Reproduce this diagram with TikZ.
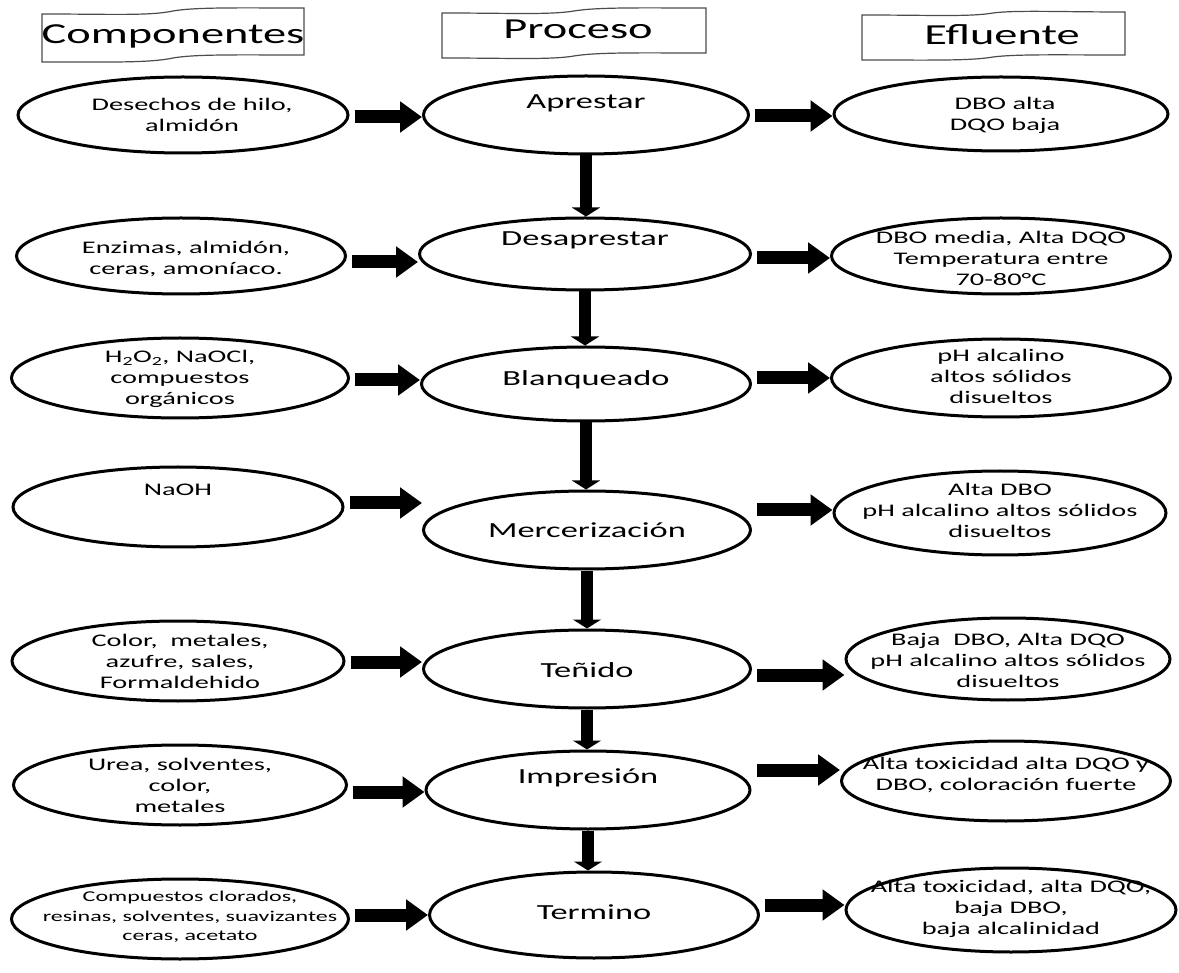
\documentclass[tikz,border=0pt]{standalone}
\usepackage{fontspec}
\setmainfont{Carlito}[FakeStretch=1.6]
\usetikzlibrary{shapes.geometric,arrows.meta}

\begin{document}
\begin{tikzpicture}[x=1pt,y=-1pt,
  elip/.style={draw,ellipse,line width=3pt,inner sep=0pt},
  txt/.style={align=center,inner sep=0pt,font=\fontsize{17.7}{21}\selectfont},
  ptxt/.style={inner sep=0pt,font=\fontsize{21.5}{26}\selectfont},
  htxt/.style={inner sep=0pt,font=\fontsize{29}{34}\selectfont},
  bnr/.style={draw=black!70,line width=1.2pt},
  harr/.style={line width=13pt,-{Triangle[length=22pt,width=30pt]},shorten <=5pt},
  varr/.style={line width=12pt,-{Triangle[length=9pt,width=28pt]}}]
\useasboundingbox (0,0) rectangle (1179,973);

% banners
\draw[bnr] (42,14) .. controls (110,14) and (150,16) .. (173,11) .. controls (196,7) and (240,8) .. (304,8)
  -- (304,55) .. controls (240,55) and (196,54) .. (173,58) .. controls (150,63) and (110,62) .. (42,62) -- cycle;
\draw[bnr] (442,13) .. controls (510,13) and (550,15) .. (574,11) .. controls (598,7) and (642,8) .. (706,8)
  -- (706,53) .. controls (642,53) and (598,52) .. (574,56) .. controls (550,60) and (510,58) .. (442,58) -- cycle;
\draw[bnr] (862,15) .. controls (930,15) and (970,17) .. (993,13) .. controls (1016,10) and (1060,12) .. (1125,12)
  -- (1125,55) .. controls (1060,55) and (1016,54) .. (993,57) .. controls (970,61) and (930,60) .. (862,60) -- cycle;
\node[htxt] (hC) at (173,36) {Componentes};
\node[htxt] (hP) at (578,29) {Proceso};
\node[htxt] (hE) at (1002,35) {Efluente};

\begin{scope}[every node/.style={elip}]
  \node[minimum width=330pt,minimum height=76pt] (l1) at (183,115) {};
  \node[minimum width=325pt,minimum height=78pt] (p1) at (586,115) {};
  \node[minimum width=334pt,minimum height=74pt] (r1) at (1001,114) {};
  \node[minimum width=329pt,minimum height=76pt] (l2) at (181,256) {};
  \node[minimum width=331pt,minimum height=72pt] (p2) at (585,254) {};
  \node[minimum width=339pt,minimum height=76pt] (r2) at (1001,256) {};
  \node[minimum width=337pt,minimum height=80pt] (l3) at (180,378) {};
  \node[minimum width=329pt,minimum height=74pt] (p3) at (586,384) {};
  \node[minimum width=339pt,minimum height=78pt] (r3) at (1001,378) {};
  \node[minimum width=330pt,minimum height=80pt] (l4) at (178,507) {};
  \node[minimum width=327pt,minimum height=78pt] (p4) at (587,530) {};
  \node[minimum width=332pt,minimum height=84pt] (r4) at (1000,513) {};
  \node[minimum width=332pt,minimum height=80pt] (l5) at (178,661) {};
  \node[minimum width=327pt,minimum height=78pt] (p5) at (587,669) {};
  \node[minimum width=324pt,minimum height=82pt] (r5) at (1008,659) {};
  \node[minimum width=333pt,minimum height=80pt] (l6) at (180,785) {};
  \node[minimum width=324pt,minimum height=78pt] (p6) at (588,790) {};
  \node[minimum width=329pt,minimum height=80pt] (r6) at (1006,781) {};
  \node[minimum width=337pt,minimum height=80pt] (l7) at (180,919) {};
  \node[minimum width=329pt,minimum height=86pt] (p7) at (594,915) {};
  \node[minimum width=330pt,minimum height=84pt] (r7) at (1011,910) {};
\end{scope}

% componentes
\node[txt] (tl1) at (192,115) {Desechos de hilo,\\almidón};
\node[txt] (tl2) at (186,259) {Enzimas, almidón,\\ceras, amoníaco.};
\node[txt] (tl3) at (180,379) {H\textsubscript{2}O\textsubscript{2}, NaOCl,\\compuestos\\orgánicos};
\node[txt] (tl4) at (178,490) {NaOH};
\node[txt] (tl5) at (180,661) {Color,\ \ metales,\\azufre, sales,\\Formaldehido};
\node[txt] (tl6) at (180,785) {Urea, solventes,\\color,\\metales};
\node[txt,font=\fontsize{15}{19.5}\selectfont] (tl7) at (190,917) {Compuestos clorados,\\resinas, solventes, suavizantes\\ceras, acetato};

% proceso
\node[ptxt] (tp1) at (586,103) {Aprestar};
\node[ptxt] (tp2) at (585,240) {Desaprestar};
\node[ptxt] (tp3) at (586,380) {Blanqueado};
\node[ptxt] (tp4) at (587,530) {Mercerización};
\node[ptxt] (tp5) at (587,670) {Teñido};
\node[ptxt] (tp6) at (588,778) {Impresión};
\node[ptxt] (tp7) at (594,912) {Termino};

% efluente
\node[txt] (tr1) at (1005,115) {DBO alta\\DQO baja};
\node[txt] (tr2) at (1001,258) {DBO media, Alta DQO\\Temperatura entre\\70-80°C};
\node[txt] (tr3) at (1001,376) {pH alcalino\\altos sólidos\\disueltos};
\node[txt] (tr4) at (1000,510) {Alta DBO\\pH alcalino altos sólidos\\disueltos};
\node[txt] (tr5) at (1008,660) {Baja\ \ DBO, Alta DQO\\pH alcalino altos sólidos\\disueltos};
\node[txt] (tr6) at (1006,775) {Alta toxicidad alta DQO y\\DBO, coloración fuerte};
\node[txt] (tr7) at (1011,909) {Alta toxicidad, alta DQO,\\baja DBO,\\baja alcalinidad};

% flechas
\draw[harr] ([yshift=-2pt]l1.east) -- ([yshift=-2pt]l1.east -| p1.west);
\draw[harr] ([yshift=-6pt]l2.east) -- ([yshift=-6pt]l2.east -| p2.west);
\draw[harr] ([yshift=-2pt]l3.east) -- ([yshift=-2pt]l3.east -| p3.west);
\draw[harr] ([yshift=4pt]l4.east) -- ([yshift=4pt]l4.east -| p4.west);
\draw[harr] ([yshift=-1pt]l5.east) -- ([yshift=-1pt]l5.east -| p5.west);
\draw[harr] ([yshift=-7pt]l6.east) -- ([yshift=-7pt]l6.east -| p6.west);
\draw[harr] ([yshift=4pt]l7.east) -- ([yshift=4pt]l7.east -| p7.west);
\draw[harr] ([yshift=-1pt]p1.east) -- ([yshift=-1pt]p1.east -| r1.west);
\draw[harr] ([yshift=-4pt]p2.east) -- ([yshift=-4pt]p2.east -| r2.west);
\draw[harr] ([yshift=6pt]p3.east) -- ([yshift=6pt]p3.east -| r3.west);
\draw[harr] ([yshift=20pt]p4.east) -- ([yshift=20pt]p4.east -| r4.west);
\draw[harr] ([yshift=-6pt]p5.east) -- ([yshift=-6pt]p5.east -| r5.west);
\draw[harr] ([yshift=20pt]p6.east) -- ([yshift=20pt]p6.east -| r6.west);
\draw[harr] ([yshift=10pt]p7.east) -- ([yshift=10pt]p7.east -| r7.west);
\draw[varr] (p1.south) -- (p1.south |- p2.north);
\draw[varr] (p2.south) -- (p2.south |- p3.north);
\draw[varr] (p3.south) -- (p3.south |- p4.north);
\draw[varr] (p4.south) -- (p4.south |- p5.north);
\draw[varr] (p5.south) -- (p5.south |- p6.north);
\draw[varr] (p6.south) -- (p6.south |- p7.north);
\end{tikzpicture}
\end{document}
